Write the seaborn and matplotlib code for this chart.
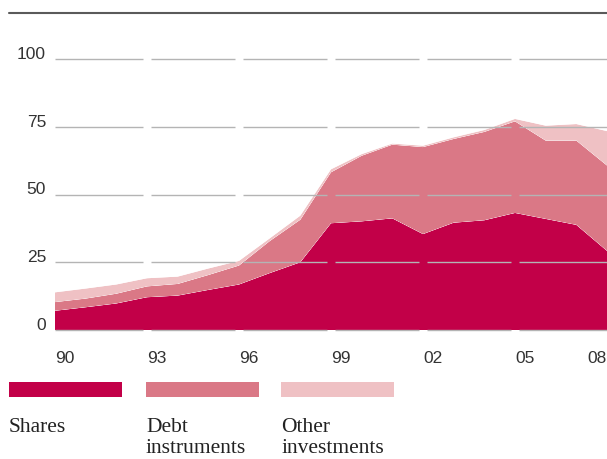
import matplotlib
matplotlib.use("Agg")
import matplotlib.pyplot as plt
import matplotlib.transforms as mtransforms
from matplotlib.lines import Line2D
from matplotlib.patches import Rectangle
import pandas as pd
import seaborn as sns
import seaborn.objects as so

# Holdings by category, per cent
years = list(range(1990, 2009))
shares = [7.1, 8.4, 9.8, 12.1, 12.7, 14.8, 16.8, 21.0, 25.0, 39.4,
          40.1, 41.2, 35.4, 39.6, 40.5, 43.2, 41.0, 38.8, 29.2]
debt_instruments = [3.2, 3.2, 3.6, 4.0, 4.3, 5.5, 7.0, 11.8, 15.7, 18.8,
                    24.2, 27.2, 32.1, 30.9, 32.6, 33.8, 28.9, 31.1, 31.5]
other_investments = [3.6, 3.7, 3.4, 3.0, 2.7, 2.4, 1.7, 1.0, 1.5, 1.1,
                     0.6, 0.4, 0.5, 0.6, 0.7, 0.9, 5.5, 6.1, 12.7]

series_names = ["Shares", "Debt instruments", "Other investments"]
legend_lines = [["Shares"], ["Debt", "instruments"], ["Other", "investments"]]
y_ticks = [0, 25, 50, 75, 100]
x_ticks = [1990, 1993, 1996, 1999, 2002, 2005, 2008]
x_tick_labels = ["90", "93", "96", "99", "02", "05", "08"]

colors = {"Shares": "#C20048",
          "Debt instruments": "#DA7886",
          "Other investments": "#EFC1C4"}

df = pd.concat([
    pd.DataFrame({"year": years, "value": vals, "series": name})
    for name, vals in zip(series_names, [shares, debt_instruments, other_investments])
], ignore_index=True)

sns.set_theme(style="white")
W, H = 607, 460
fig = plt.figure(figsize=(W / 100, H / 100), dpi=100)
ax = fig.add_axes([55 / W, (H - 331) / H, 552 / W, 271 / H])

(
    so.Plot(df, x="year", y="value", color="series")
    .add(so.Area(alpha=1, edgewidth=0), so.Stack())
    .scale(color=so.Nominal(colors, order=series_names))
    .theme({**sns.axes_style("white")})
    .on(ax)
    .plot()
)
fig.legends.clear()

ax.set_facecolor("white")
ax.set_xlim(1990, 2008)
ax.set_ylim(0, 100)
ax.set_xlabel("")
ax.set_ylabel("")
ax.set_xticks([])
ax.set_yticks([])
ax.grid(False)
for s in ax.spines.values():
    s.set_visible(False)

# broken horizontal grid lines, drawn over the areas
grid_color = "#b4b4b4"
gap = 0.13
for yv in y_ticks:
    for k in range(6):
        x0 = x_ticks[k] + (0 if k == 0 else gap)
        x1 = x_ticks[k + 1] - (0 if k == 5 else gap)
        ax.plot([x0, x1], [yv, yv], color=grid_color, lw=1.0,
                zorder=5, clip_on=False, solid_capstyle="butt")

tick_font = dict(family="Liberation Sans", size=12.5, color="#333333")

# y labels, right-aligned left of the plot, sitting on their grid lines
ytrans = ax.get_yaxis_transform() + mtransforms.ScaledTranslation(
    -9 / 100, 1 / 100, fig.dpi_scale_trans)
for yv in y_ticks:
    ax.text(0, yv, str(yv), transform=ytrans, ha="right", va="baseline",
            **tick_font)

# x labels, left-aligned at their year; the last one right-aligned
xtrans = ax.get_xaxis_transform() + mtransforms.ScaledTranslation(
    0, -32 / 100, fig.dpi_scale_trans)
for i, (xv, lab) in enumerate(zip(x_ticks, x_tick_labels)):
    ha = "right" if i == len(x_ticks) - 1 else "left"
    ax.text(xv, 0, lab, transform=xtrans, ha=ha, va="baseline",
            clip_on=False, **tick_font)

# rule across the top
fig.add_artist(Line2D([9 / W, 1.0], [1 - 14 / H, 1 - 14 / H],
                      color="#5a5a5a", lw=1.5, transform=fig.transFigure))

# legend swatches and labels
swatch_x = [9, 146, 281]
for xpx, name, lines in zip(swatch_x, series_names, legend_lines):
    fig.add_artist(Rectangle((xpx / W, 1 - 398 / H), 113 / W, 15 / H,
                             transform=fig.transFigure,
                             facecolor=colors[name], edgecolor="none"))
    for j, line in enumerate(lines):
        fig.text(xpx / W, 1 - (432 + 21 * j) / H, line, ha="left",
                 va="baseline", family="Liberation Serif", size=15.5,
                 color="#222222")

fig.savefig("out.png", dpi=100)
